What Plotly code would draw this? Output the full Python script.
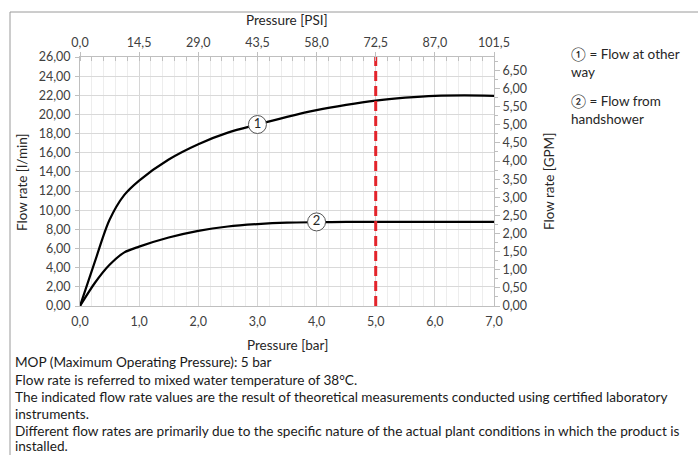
import plotly.graph_objects as go

# ---- data ----
pressure_bar = [0, 0.25, 0.5, 0.75, 1.0, 1.5, 2.0, 2.5, 3.0, 3.5, 4.0, 4.5, 5.0, 5.5, 6.0, 6.5, 7.0]
flow_other_way = [0, 4.6, 9.0, 11.6, 13.1, 15.3, 16.9, 18.1, 18.95, 19.75, 20.45, 21.0, 21.45, 21.75, 21.95, 22.0, 21.95]
flow_handshower = [0, 2.4, 4.3, 5.6, 6.2, 7.15, 7.85, 8.3, 8.55, 8.7, 8.75, 8.78, 8.78, 8.78, 8.78, 8.78, 8.78]
label_pos_x = [3.0, 4.0]
label_pos_y = [18.95, 8.78]
label_text = ["1", "2"]
mop_bar = 5.0
y_max = 26.0
x_max = 7.0
bar_to_psi = 14.5
lpm_per_gpm = 3.785

notes = [
    "MOP (Maximum Operating Pressure): 5 bar",
    "Flow rate is referred to mixed water temperature of 38°C.",
    "The indicated flow rate values are the result of theoretical measurements conducted using certified laboratory",
    "instruments.",
    "Different flow rates are primarily due to the specific nature of the actual plant conditions in which the product is",
    "installed.",
]

FONT = "Lato, 'Noto Sans', sans-serif"
TXT = "#262626"
TICK = "#404040"

fig = go.Figure()
fig.add_trace(go.Scatter(x=pressure_bar, y=flow_other_way, mode="lines",
                         line=dict(color="black", width=2.2, shape="spline", smoothing=0.9),
                         hoverinfo="skip", showlegend=False))
fig.add_trace(go.Scatter(x=pressure_bar, y=flow_handshower, mode="lines",
                         line=dict(color="black", width=2.2, shape="spline", smoothing=0.8),
                         hoverinfo="skip", showlegend=False))
fig.add_trace(go.Scatter(x=[mop_bar, mop_bar], y=[0, y_max], mode="lines",
                         line=dict(color="#e3242b", width=3, dash="10px,5px"),
                         hoverinfo="skip", showlegend=False))
fig.add_trace(go.Scatter(x=label_pos_x, y=label_pos_y, mode="markers+text",
                         text=label_text, textposition="middle center",
                         textfont=dict(family=FONT, size=13, color=TXT),
                         marker=dict(size=18, color="white", line=dict(color="#555555", width=1)),
                         hoverinfo="skip", showlegend=False))
# invisible trace to anchor the secondary (PSI / GPM) axes
fig.add_trace(go.Scatter(x=[0, x_max * bar_to_psi], y=[0, y_max / lpm_per_gpm], xaxis="x2", yaxis="y2",
                         mode="markers", marker=dict(opacity=0), hoverinfo="skip", showlegend=False))

tickfont = dict(family=FONT, size=12.5, color=TICK)
fig.update_layout(
    width=698, height=455,
    margin=dict(l=80, r=204, t=57, b=149, pad=0),
    paper_bgcolor="white", plot_bgcolor="white",
    separators=",.",
    font=dict(family=FONT, size=12, color=TXT),
    xaxis=dict(range=[0, x_max], tick0=0, dtick=1, tickformat=".1f", showgrid=True,
               gridcolor="#d6d6d6", gridwidth=1, zeroline=False,
               showline=True, linecolor="#bfbfbf", linewidth=1, ticks="", tickfont=tickfont,
               ticklabelstandoff=4,
               minor=dict(dtick=0.2, showgrid=True, gridcolor="#ededed", gridwidth=1, ticks="")),
    yaxis=dict(range=[0, y_max], tick0=0, dtick=2, tickformat=".2f", showgrid=True,
               gridcolor="#d9d9d9", gridwidth=1, zeroline=False,
               showline=True, linecolor="#bfbfbf", linewidth=1, ticks="outside", ticklen=4,
               tickcolor="#bfbfbf", tickfont=tickfont, ticklabelstandoff=2),
    xaxis2=dict(overlaying="x", side="top", range=[0, x_max * bar_to_psi], tick0=0, dtick=bar_to_psi,
                tickformat=".1f", showgrid=False, zeroline=False, showline=True, linecolor="#bfbfbf",
                ticks="outside", ticklen=4, tickcolor="#bfbfbf", tickfont=tickfont,
                minor=dict(dtick=bar_to_psi / 5, ticks="inside", ticklen=4, tickcolor="#bfbfbf")),
    yaxis2=dict(overlaying="y", side="right", range=[0, y_max / lpm_per_gpm], tick0=0, dtick=0.5,
                tickformat=".2f", showgrid=False, zeroline=False, showline=True, linecolor="#bfbfbf",
                ticks="outside", ticklen=5, tickcolor="#bfbfbf", tickfont=tickfont,
                minor=dict(dtick=0.25, ticks="outside", ticklen=3, tickcolor="#bfbfbf")),
)

W, H = 414.0, 249.0  # plot area size in px
def px(xp): return (xp - 80) / W
def py(yp): return (306 - yp) / H

ann = []
ann.append(dict(text="Pressure [PSI]", x=0.5, y=py(20), xref="paper", yref="paper",
                showarrow=False, font=dict(size=13.5, color=TXT), xanchor="center", yanchor="middle"))
ann.append(dict(text="Pressure [bar]", x=0.5, y=py(345), xref="paper", yref="paper",
                showarrow=False, font=dict(size=13.5, color=TXT), xanchor="center", yanchor="middle"))
ann.append(dict(text="Flow rate [l/min]", x=px(22), y=py(182), xref="paper", yref="paper", textangle=-90,
                showarrow=False, font=dict(size=13.5, color=TXT), xanchor="center", yanchor="middle"))
ann.append(dict(text="Flow rate [GPM]", x=px(549), y=py(182), xref="paper", yref="paper", textangle=-90,
                showarrow=False, font=dict(size=13.5, color=TXT), xanchor="center", yanchor="middle"))
ann.append(dict(text="① = Flow at other<br>way", x=px(569), y=py(44), xref="paper", yref="paper",
                showarrow=False, align="left", font=dict(size=13.5, color=TXT), xanchor="left", yanchor="top"))
ann.append(dict(text="② = Flow from<br>handshower", x=px(569), y=py(91), xref="paper", yref="paper",
                showarrow=False, align="left", font=dict(size=13.5, color=TXT), xanchor="left", yanchor="top"))
for i, line in enumerate(notes):
    yc = [362, 380, 397, 414, 431, 446][i]
    ann.append(dict(text=line, x=px(13), y=py(yc), xref="paper", yref="paper",
                    showarrow=False, align="left", font=dict(size=13.6, color="#1a1a1a"),
                    xanchor="left", yanchor="middle"))
fig.update_layout(annotations=ann)

fig.update_layout(shapes=[
    dict(type="line", xref="paper", yref="paper", x0=px(10), x1=px(700), y0=py(12), y1=py(12),
         line=dict(color="#9a9a9a", width=1)),
    dict(type="line", xref="paper", yref="paper", x0=px(10), x1=px(10), y0=py(12), y1=py(460),
         line=dict(color="#9a9a9a", width=1)),
])

fig.write_html("out.html", config={"displayModeBar": False},
               post_script="document.body.style.margin='0';document.body.style.overflow='hidden';")
